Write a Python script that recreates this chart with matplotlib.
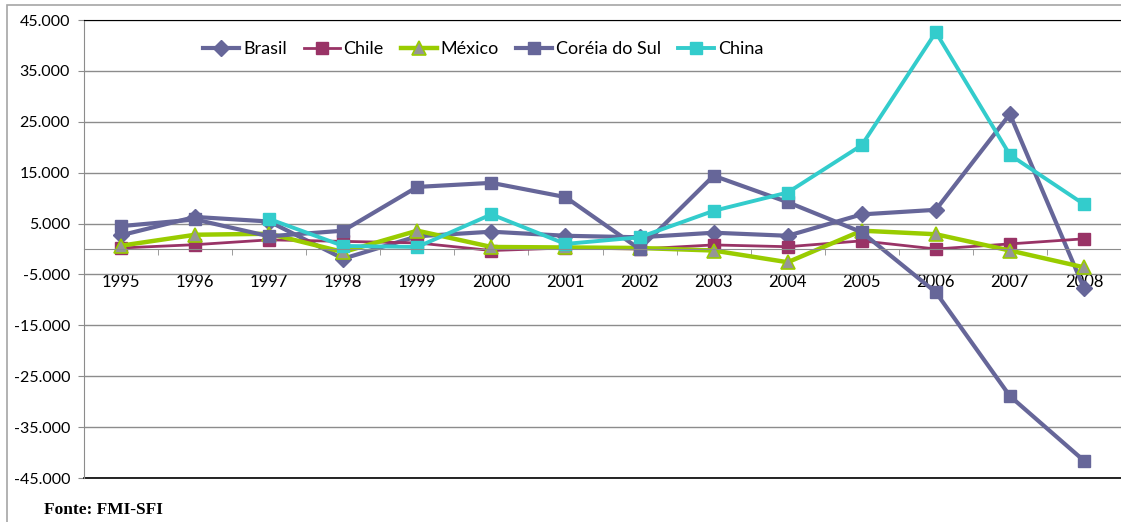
import numpy as np
import matplotlib
matplotlib.use('Agg')
import matplotlib.pyplot as plt
from matplotlib.patches import Rectangle
from matplotlib.ticker import FuncFormatter

years = ['1995', '1996', '1997', '1998', '1999', '2000', '2001',
         '2002', '2003', '2004', '2005', '2006', '2007', '2008']

brasil = [2700, 6300, 5400, -1900, 2500, 3400, 2600, 2300, 3200, 2600, 6800, 7700, 26500, -7700]
chile = [200, 850, 1800, 1500, 1200, -300, 200, 0, 800, 450, 1600, 0, 1000, 2000]
mexico = [650, 2800, 3000, -600, 3600, 400, 300, 200, -300, -2600, 3600, 2900, -300, -3600]
coreia = [4500, 5800, 2500, 3600, 12200, 13000, 10200, 0, 14400, 9200, 3300, -8500, -28900, -41600]
china = [np.nan, np.nan, 5900, 600, 400, 6800, 1000, 2300, 7500, 11100, 20400, 42600, 18500, 8800]

plt.rcParams['font.family'] = ['Lato', 'DejaVu Sans']

fig = plt.figure(figsize=(11.21, 5.22), dpi=100)
ax = fig.add_axes([84 / 1121, 44 / 522, 1037 / 1121, 458 / 522])

# outer frame of the excel chart
fig.patches.append(Rectangle((7 / 1121, -0.05), 1.2, 0.05 + (517 / 522), transform=fig.transFigure,
                             fill=False, edgecolor='#a6a6a6', lw=1.2))

x = np.arange(len(years))
ax.plot(x, brasil, color='#666699', lw=3, marker='D', ms=8.5, label='Brasil')
ax.plot(x, chile, color='#993366', lw=2, marker='s', ms=8.5, label='Chile')
ax.plot(x, mexico, color='#99cc00', lw=3.2, marker='^', ms=9.5, mfc='#969696', mec='#99cc00',
        mew=1.2, label='México')
ax.plot(x, coreia, color='#666699', lw=3, marker='s', ms=9, label='Coréia do Sul')
ax.plot(x, china, color='#33cccc', lw=2.8, marker='s', ms=9, label='China')

ax.set_ylim(-45000, 45000)
ax.set_xlim(-0.5, 13.457)
ax.set_yticks(np.arange(-45000, 45001, 10000))
ax.yaxis.set_major_formatter(FuncFormatter(lambda v, p: f'{int(v):,}'.replace(',', '.')))
ax.grid(axis='y', color='#8c8c8c', lw=1)
ax.set_axisbelow(True)

ax.spines['bottom'].set_position(('data', 0))
ax.spines['bottom'].set_color('#8c8c8c')
ax.spines['left'].set_color('#8c8c8c')
ax.spines['top'].set_color('black')
ax.spines['right'].set_visible(False)
ax.axhline(-45000, color='black', lw=1.2, clip_on=False)

ax.set_xticks(x)
ax.set_xticklabels(years)
ax.set_xticks(np.arange(-0.5, 14, 1), minor=True)
ax.tick_params(axis='x', which='major', length=0, pad=18, labelsize=12)
ax.tick_params(axis='x', which='minor', length=4, color='#8c8c8c', direction='out')
ax.tick_params(axis='y', length=4, color='#8c8c8c', labelsize=11.5, pad=6)

ax.legend(loc='center', bbox_to_anchor=(0.385, 0.937), ncol=5, frameon=False, fontsize=13,
          handlelength=2.0, handletextpad=0.2, columnspacing=0.95)

fig.text(44 / 1121, 1 - 510 / 522, 'Fonte: FMI-SFI', family='Liberation Serif', weight='bold',
         fontsize=12.5, va='center', ha='left')

fig.savefig('out.png', dpi=100)
